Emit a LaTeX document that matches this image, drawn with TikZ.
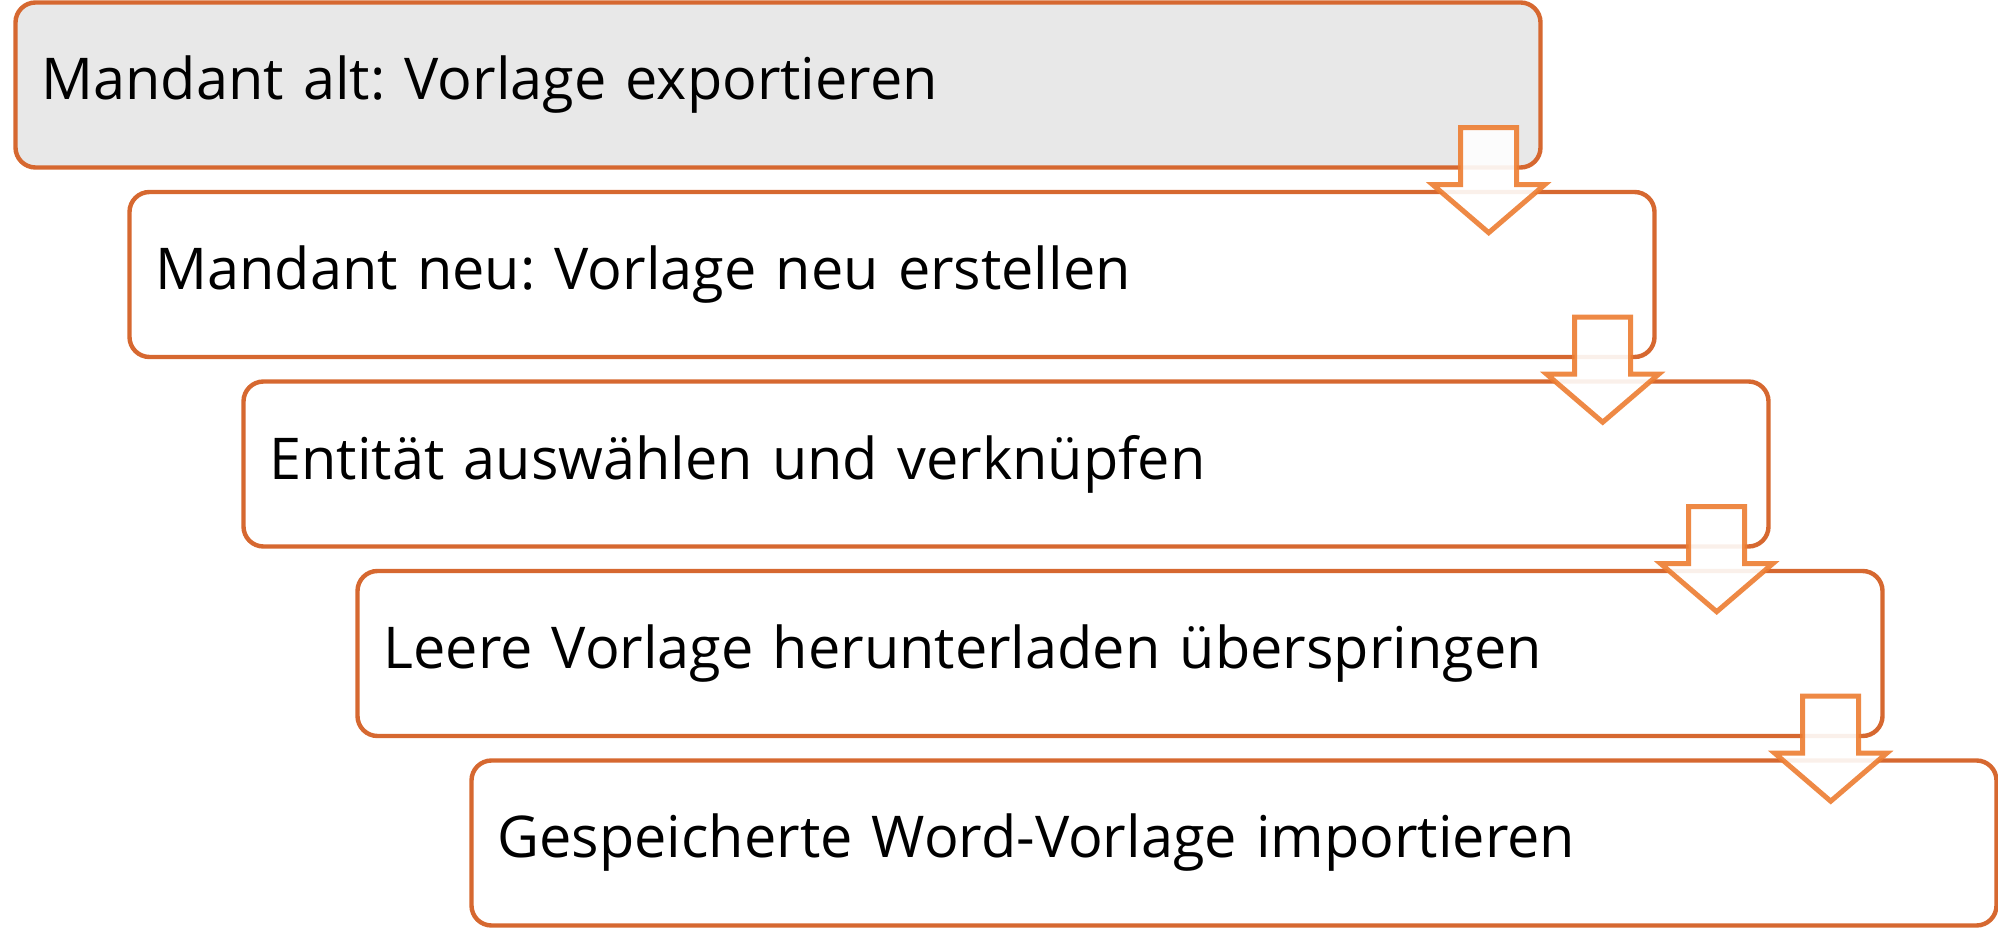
\documentclass[tikz,border=0pt]{standalone}
\usepackage{fontspec}
\setmainfont{Open Sans}
\frenchspacing
\usetikzlibrary{calc}
\definecolor{boxorange}{RGB}{214, 104, 48}
\definecolor{arroworange}{RGB}{237, 125, 49}
\definecolor{boxgray}{RGB}{232, 232, 232}
\tikzset{stepbox/.style = {draw = boxorange, line width = 2.2pt, rounded corners = 10pt, fill = white,
  minimum height = 82.5pt, text width = 736.5pt, inner xsep = 13pt, inner ysep = 0pt, align = left,
  font = \fontsize{28.8}{34}\selectfont}}
\tikzset{blockarrow/.style = {draw = arroworange, line width = 2.5pt, fill = white, fill opacity = 0.9, draw opacity = 0.9}}

\begin{document}
\begin{tikzpicture}
\useasboundingbox (0,0) rectangle (999pt,-464.5pt);
\node[stepbox, fill = boxgray] (alt) at (389pt, -42.5pt) {Mandant alt: Vorlage exportieren};
\node[stepbox] (neu) at (446pt, -137.25pt) {Mandant neu: Vorlage neu erstellen};
\node[stepbox] (entitaet) at (503pt, -232pt) {Entität auswählen und verknüpfen};
\node[stepbox] (leer) at (560pt, -326.75pt) {Leere Vorlage herunterladen überspringen};
\node[stepbox] (import) at (617pt, -421.5pt) {Gespeicherte Word-Vorlage importieren};
\draw[blockarrow] ([xshift = -41pt, yshift = 21pt]alt.south east) -- ++(0,-28.5pt) -- ++(-14pt,0) -- ++(28pt,-24pt) -- ++(28pt,24pt) -- ++(-14pt,0) -- ++(0,28.5pt) -- cycle;
\draw[blockarrow] ([xshift = -41pt, yshift = 21pt]neu.south east) -- ++(0,-28.5pt) -- ++(-14pt,0) -- ++(28pt,-24pt) -- ++(28pt,24pt) -- ++(-14pt,0) -- ++(0,28.5pt) -- cycle;
\draw[blockarrow] ([xshift = -41pt, yshift = 21pt]entitaet.south east) -- ++(0,-28.5pt) -- ++(-14pt,0) -- ++(28pt,-24pt) -- ++(28pt,24pt) -- ++(-14pt,0) -- ++(0,28.5pt) -- cycle;
\draw[blockarrow] ([xshift = -41pt, yshift = 21pt]leer.south east) -- ++(0,-28.5pt) -- ++(-14pt,0) -- ++(28pt,-24pt) -- ++(28pt,24pt) -- ++(-14pt,0) -- ++(0,28.5pt) -- cycle;
\end{tikzpicture}
\end{document}
